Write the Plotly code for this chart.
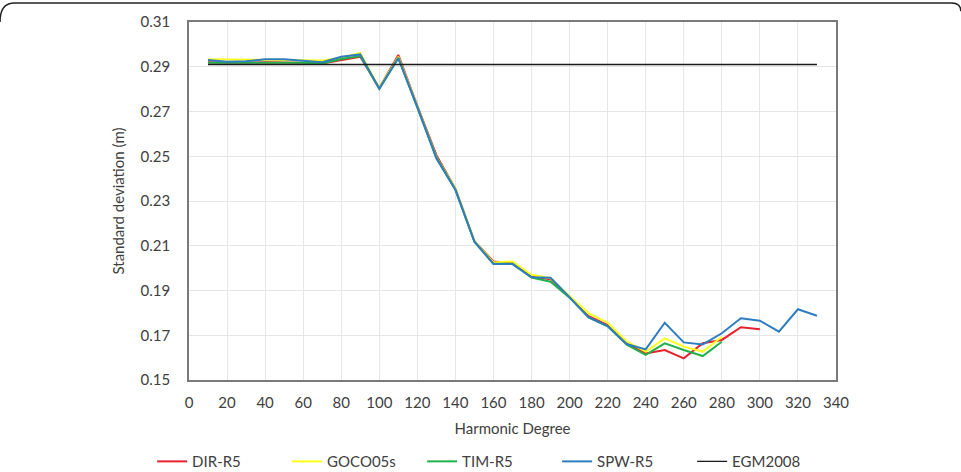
import plotly.graph_objects as go

deg_main = [10, 20, 30, 40, 50, 60, 70, 80, 90, 100, 110, 120, 130, 140, 150, 160, 170, 180, 190, 200,
            210, 220, 230, 240, 250, 260, 270, 280, 290, 300]
deg_short = deg_main[:28]
deg_spw = deg_main + [310, 320, 330]
deg_egm = [10, 330]

dir_r5 = [0.2920, 0.2918, 0.2918, 0.2920, 0.2920, 0.2918, 0.2915, 0.2930, 0.2945, 0.2805, 0.2953, 0.2725,
          0.2505, 0.2355, 0.2120, 0.2030, 0.2022, 0.1962, 0.1950, 0.1870, 0.1785, 0.1745, 0.1663, 0.1619,
          0.1634, 0.1597, 0.1664, 0.1679, 0.1736, 0.1727]
goco05s = [0.2933, 0.2932, 0.2931, 0.2932, 0.2932, 0.2930, 0.2928, 0.2940, 0.2962, 0.2805, 0.2945, 0.2722,
           0.2495, 0.2355, 0.2120, 0.2025, 0.2030, 0.1970, 0.1955, 0.1875, 0.1798, 0.1756, 0.1672, 0.1627,
           0.1686, 0.1649, 0.1627, 0.1693]
tim_r5 = [0.2918, 0.2918, 0.2918, 0.2920, 0.2920, 0.2918, 0.2915, 0.2935, 0.2948, 0.2802, 0.2940, 0.2720,
          0.2495, 0.2350, 0.2118, 0.2020, 0.2020, 0.1958, 0.1939, 0.1868, 0.1780, 0.1740, 0.1658, 0.1612,
          0.1664, 0.1634, 0.1607, 0.1671]
spw_r5 = [0.2930, 0.2922, 0.2925, 0.2933, 0.2933, 0.2925, 0.2920, 0.2945, 0.2955, 0.2802, 0.2938, 0.2720,
          0.2490, 0.2350, 0.2118, 0.2018, 0.2018, 0.1959, 0.1957, 0.1870, 0.1780, 0.1741, 0.1661, 0.1637,
          0.1756, 0.1668, 0.1659, 0.1709, 0.1776, 0.1765, 0.1716, 0.1816, 0.1787]
egm2008 = [0.2910, 0.2910]

x_ticks = list(range(0, 341, 20))
y_ticks = [0.15, 0.17, 0.19, 0.21, 0.23, 0.25, 0.27, 0.29, 0.31]

series = [
    ("DIR-R5", deg_main, dir_r5, "#e8202a"),
    ("GOCO05s", deg_short, goco05s, "#ffff1a"),
    ("TIM-R5", deg_short, tim_r5, "#22b04b"),
    ("SPW-R5", deg_spw, spw_r5, "#2e7dc0"),
    ("EGM2008", deg_egm, egm2008, "#1a1a1a"),
]

fig = go.Figure()
for name, xs, ys, col in series:
    fig.add_trace(go.Scatter(x=xs, y=ys, name=name, mode="lines",
                             line=dict(color=col, width=2 if name != "EGM2008" else 1.3)))

FONT = "Lato"
fig.update_layout(
    width=961, height=472,
    margin=dict(l=189, r=125, t=22, b=92, autoexpand=False),
    paper_bgcolor="white", plot_bgcolor="white",
    font=dict(family=FONT, size=15, color="#404040"),
    showlegend=True,
    legend=dict(orientation="h", x=-0.057, xanchor="left", y=-0.228, yanchor="middle",
                font=dict(size=15, color="#404040"), entrywidth=90, entrywidthmode="pixels",
                itemwidth=30, tracegroupgap=0),
    xaxis=dict(range=[0, 340], tickvals=x_ticks, ticktext=[str(v) for v in x_ticks],
               showgrid=True, gridcolor="#e6e6e6", gridwidth=1,
               showline=True, linecolor="#7a7a7a", linewidth=1.5, mirror=True,
               ticks="", zeroline=False, fixedrange=True, ticklabelstandoff=8,
               title=dict(text="Harmonic Degree", font=dict(size=15, color="#404040"), standoff=14)),
    yaxis=dict(range=[0.15, 0.31], tickvals=y_ticks, ticktext=["%.2f" % v for v in y_ticks],
               showgrid=True, gridcolor="#e6e6e6", gridwidth=1,
               showline=True, linecolor="#7a7a7a", linewidth=1.5, mirror=True,
               ticks="", zeroline=False, fixedrange=True, ticklabelstandoff=14,
               title=dict(text="Standard deviation (m)", font=dict(size=15, color="#404040"), standoff=12)),
)

# outer frame (rounded top border of the figure panel)
fig.add_shape(type="path", xref="paper", yref="paper",
              path="M -0.2921,1.0 Q -0.2921,1.053 -0.27,1.053 L 1.178,1.053 Q 1.193,1.053 1.193,1.03",
              line=dict(color="#222222", width=1.5))

fig.write_html("out.html")
